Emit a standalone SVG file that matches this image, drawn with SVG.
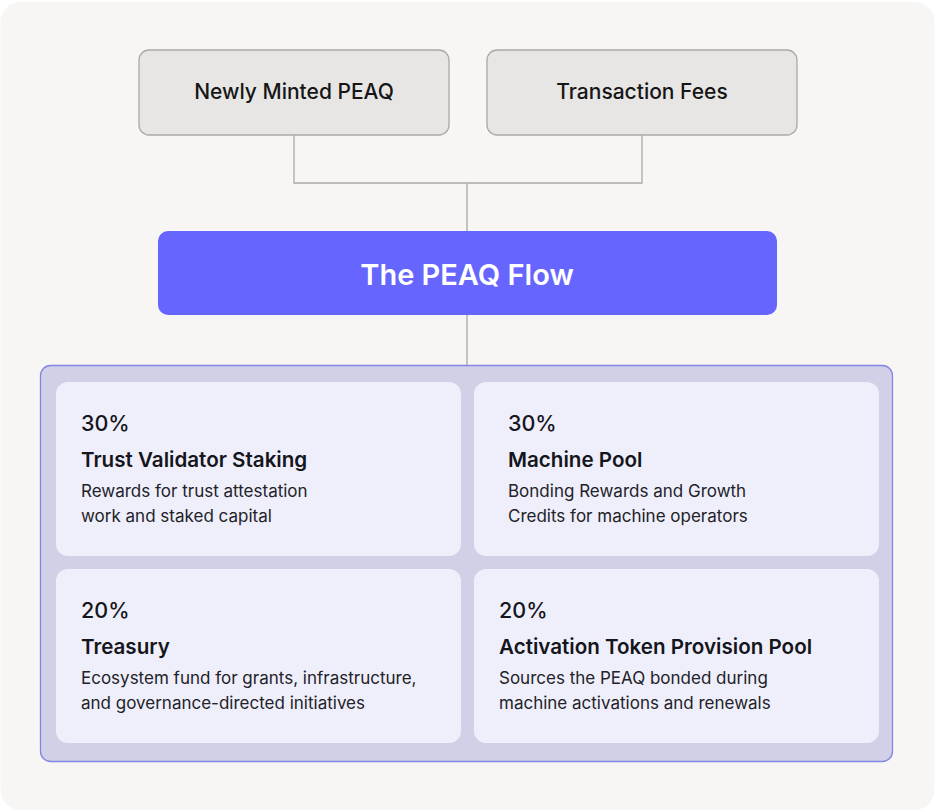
<svg xmlns="http://www.w3.org/2000/svg" width="937" height="812" viewBox="0 0 937 812">
<style>
.src rect{fill:#e7e6e5;stroke:#a9a9a9;stroke-width:1.3}
.src text{font-family:Inter,"Liberation Sans",sans-serif;font-size:21px;font-weight:500;fill:#161616;text-anchor:middle}
.card rect{fill:#efeffb}
.pct{font-family:Inter,"Liberation Sans",sans-serif;font-size:21.5px;font-weight:500;fill:#15151c}
.ttl{font-family:Inter,"Liberation Sans",sans-serif;font-size:20.6px;font-weight:600;fill:#15151c}
.dsc{font-family:Inter,"Liberation Sans",sans-serif;font-size:17px;font-weight:400;fill:#222228}
.conn{fill:none;stroke:#a9a9a9;stroke-width:1.3}
</style>
<rect x="0" y="0" width="937" height="812" fill="#ffffff"/>
<rect x="0.5" y="2" width="934" height="808" rx="20" fill="#f7f6f4"/>
<g id="connectors">
<path class="conn" d="M294 135V183H642V135M467 183V231M467 315V365"/>
</g>
<g id="newly-minted" class="src">
<rect x="139" y="50" width="310" height="85" rx="10"/>
<text x="294" y="99">Newly Minted PEAQ</text>
</g>
<g id="transaction-fees" class="src">
<rect x="487" y="50" width="310" height="85" rx="10"/>
<text x="642" y="99">Transaction Fees</text>
</g>
<g id="peaq-flow">
<rect x="158" y="231" width="619" height="84" rx="10" fill="#6666ff"/>
<text x="467" y="285" font-family="Inter,'Liberation Sans',sans-serif" font-size="29" font-weight="600" fill="#ffffff" text-anchor="middle">The PEAQ Flow</text>
</g>
<g id="allocation">
<rect x="40.5" y="365.5" width="852" height="396" rx="10" fill="#d0d0e6" stroke="#8585e6" stroke-width="1.3"/>
</g>
<g id="trust-validator" class="card">
<rect x="56" y="382" width="405" height="174" rx="12"/>
<text class="pct" x="81" y="431">30%</text>
<text class="ttl" x="81" y="467">Trust Validator Staking</text>
<text class="dsc" x="81" y="497">Rewards for trust attestation</text>
<text class="dsc" x="81" y="522">work and staked capital</text>
</g>
<g id="machine-pool" class="card">
<rect x="474" y="382" width="405" height="174" rx="12"/>
<text class="pct" x="508" y="431">30%</text>
<text class="ttl" x="508" y="467">Machine Pool</text>
<text class="dsc" x="508" y="497">Bonding Rewards and Growth</text>
<text class="dsc" x="508" y="522">Credits for machine operators</text>
</g>
<g id="treasury" class="card">
<rect x="56" y="569" width="405" height="174" rx="12"/>
<text class="pct" x="81" y="618">20%</text>
<text class="ttl" x="81" y="654">Treasury</text>
<text class="dsc" x="81" y="684">Ecosystem fund for grants, infrastructure,</text>
<text class="dsc" x="81" y="709">and governance-directed initiatives</text>
</g>
<g id="activation-pool" class="card">
<rect x="474" y="569" width="405" height="174" rx="12"/>
<text class="pct" x="499" y="618">20%</text>
<text class="ttl" x="499" y="654">Activation Token Provision Pool</text>
<text class="dsc" x="499" y="684">Sources the PEAQ bonded during</text>
<text class="dsc" x="499" y="709">machine activations and renewals</text>
</g>
</svg>
